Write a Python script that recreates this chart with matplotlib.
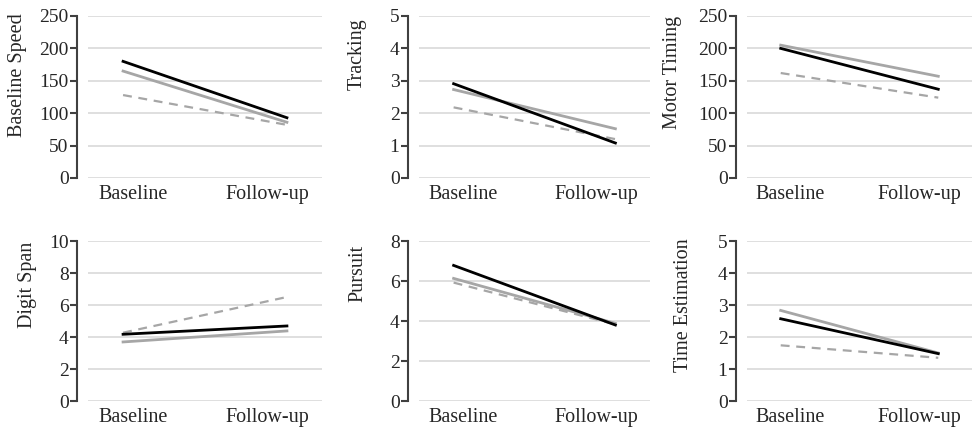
import matplotlib
matplotlib.use("Agg")
import matplotlib.pyplot as plt

plt.rcParams["font.family"] = ["Liberation Serif", "DejaVu Serif"]

timepoints = ["Baseline", "Follow-up"]

titles = ["Baseline Speed", "Tracking", "Motor Timing",
          "Digit Span", "Pursuit", "Time Estimation"]
ymax = [250, 5, 250, 10, 8, 5]
ystep = [50, 1, 50, 2, 2, 1]

# three groups per measure: black solid, gray solid, gray dashed
black_vals = [[180, 93], [2.91, 1.08], [200, 137], [4.17, 4.69], [6.78, 3.80], [2.57, 1.48]]
gray_vals = [[165, 86], [2.73, 1.52], [205, 157], [3.69, 4.38], [6.13, 3.88], [2.83, 1.50]]
dash_vals = [[128, 82], [2.18, 1.20], [162, 124], [4.27, 6.50], [5.92, 3.83], [1.74, 1.35]]

fig = plt.figure(figsize=(9.72, 4.32), dpi=100)

lefts = [88, 419, 747]
rights = [322, 650, 972]
rows = [(16, 178), (241, 401)]
W, H = 972, 432
# y-label placement (axes fraction), labels sit high like in the original
label_x = [-0.261, -0.225, -0.289, -0.218, -0.225, -0.24]
label_y = [0.636, 0.765, 0.654, 0.725, 0.80, 0.60]

for i in range(6):
    r, c = divmod(i, 3)
    top, bot = rows[r]
    ax = fig.add_axes([lefts[c] / W, 1 - bot / H, (rights[c] - lefts[c]) / W, (bot - top) / H])
    x = [0, 1]
    ax.plot(x, dash_vals[i], color="#a6a6a6", lw=1.6, dashes=(4, 3), zorder=3)
    ax.plot(x, gray_vals[i], color="#a6a6a6", lw=2.0, zorder=4)
    ax.plot(x, black_vals[i], color="#000000", lw=2.0, zorder=5)
    ax.set_xlim(-0.214, 1.214)
    ax.set_ylim(0, ymax[i])
    ticks = [k * ystep[i] for k in range(int(round(ymax[i] / ystep[i])) + 1)]
    ax.set_yticks(ticks)
    ax.set_yticklabels([str(t) for t in ticks])
    # category labels sit slightly inside the line ends, as in the original
    ax.set_xticks([0.06, 0.88])
    ax.set_xticklabels(timepoints)
    ax.grid(axis="y", color="#d9d9d9", lw=1.2, zorder=0)
    ax.set_axisbelow(True)
    for s in ["top", "right", "bottom"]:
        ax.spines[s].set_visible(False)
    ax.spines["left"].set_position(("outward", 8))
    ax.spines["left"].set_color("#404040")
    ax.spines["left"].set_linewidth(1.5)
    ax.tick_params(axis="y", length=5, width=1.5, color="#404040", labelsize=14, pad=1, labelcolor="#262626")
    ax.tick_params(axis="x", length=0, labelsize=14.5, pad=5, labelcolor="#262626")
    ax.set_ylabel(titles[i], fontsize=14.5, color="#262626")
    ax.yaxis.set_label_coords(label_x[i], label_y[i])

fig.savefig("out.png", dpi=100)
